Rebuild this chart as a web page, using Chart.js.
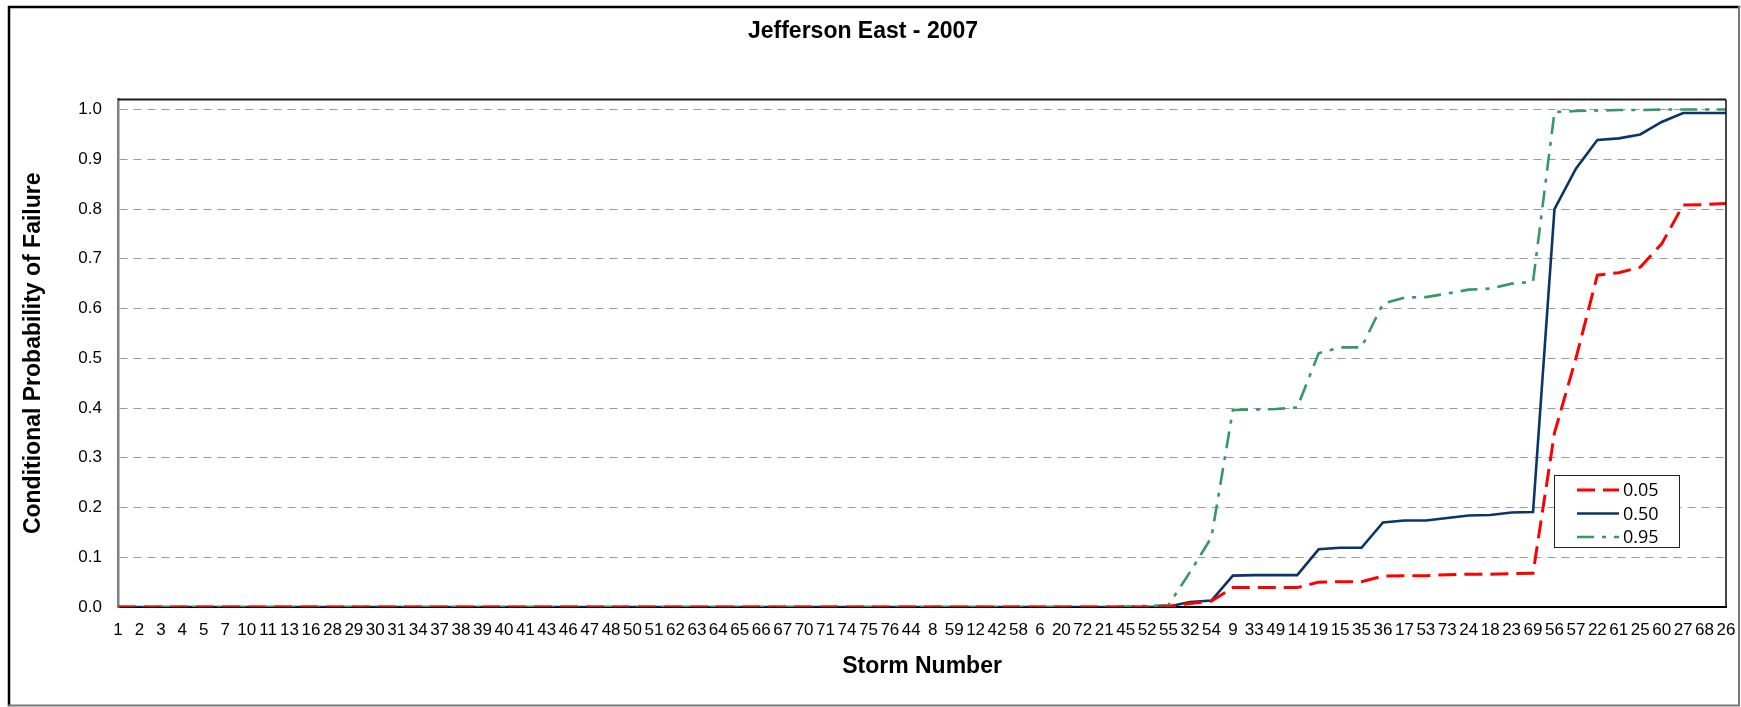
<!DOCTYPE html>
<html>
<head>
<meta charset="utf-8">
<title>Jefferson East - 2007</title>
<script src="https://cdn.jsdelivr.net/npm/chart.js@4.4.1/dist/chart.umd.min.js"></script>
<style>
  html, body { margin: 0; padding: 0; background: #fff; }
  #wrap { width: 1741px; height: 707px; }
</style>
</head>
<body>
<div id="wrap"><canvas id="chart" width="1741" height="707"></canvas></div>
<script>
// Storms in order of increasing conditional probability of failure
const storms = ['1','2','3','4','5','7','10','11','13','16','28','29','30','31','34','37','38','39','40','41',
  '43','46','47','48','50','51','62','63','64','65','66','67','70','71','74','75','76','44','8','59',
  '12','42','58','6','20','72','21','45','52','55','32','54','9','33','49','14','19','15','35','36',
  '17','53','73','24','18','23','69','56','57','22','61','25','60','27','68','26'];

// 5%, 50% and 95% confidence curves
const p05 = [0,0,0,0,0,0,0,0,0,0, 0,0,0,0,0,0,0,0,0,0, 0,0,0,0,0,0,0,0,0,0,
  0,0,0,0,0,0,0,0,0,0, 0,0,0,0,0,0,0,0,0,0.001,
  0.007,0.012,0.039,0.039,0.039,0.039,0.050,0.051,0.051,0.062,
  0.063,0.063,0.065,0.066,0.066,0.067,0.068,0.350,0.500,0.667,
  0.672,0.683,0.730,0.808,0.809,0.811];

const p50 = [0,0,0,0,0,0,0,0,0,0, 0,0,0,0,0,0,0,0,0,0, 0,0,0,0,0,0,0,0,0,0,
  0,0,0,0,0,0,0,0,0,0, 0,0,0,0,0,0,0,0,0,0.001,
  0.010,0.013,0.063,0.064,0.064,0.064,0.116,0.119,0.119,0.170,
  0.174,0.174,0.179,0.184,0.185,0.190,0.191,0.800,0.881,0.939,
  0.942,0.950,0.975,0.993,0.993,0.993];

const p95 = [0,0,0,0,0,0,0,0,0,0, 0,0,0,0,0,0,0,0,0,0, 0,0,0,0,0,0,0,0,0,0,
  0,0,0,0,0,0,0,0,0,0, 0,0,0,0,0,0,0,0.001,0.002,0.004,
  0.070,0.140,0.396,0.397,0.398,0.401,0.510,0.522,0.522,0.610,
  0.622,0.623,0.630,0.638,0.640,0.650,0.654,0.995,0.997,0.998,
  0.999,0.999,1.000,1.000,1.000,1.000];

const yTicks = [0,0.1,0.2,0.3,0.4,0.5,0.6,0.7,0.8,0.9,1.0];

const SANS = "'Liberation Sans', Arial, sans-serif";

const series = [
  { label: '0.05', data: p05, color: '#ff0000', width: 3,   dash: [18, 8] },
  { label: '0.95', data: p95, color: '#339966', width: 2.6, dash: [17, 8, 4, 8] },
  { label: '0.50', data: p50, color: '#0b3468', width: 2.6, dash: [] }
];
const legendOrder = ['0.05', '0.50', '0.95'];

// Outer frame of the whole chart and box around the plot area
const framePlugin = {
  id: 'frame',
  beforeDraw(chart) {
    const ctx = chart.ctx;
    ctx.save();
    ctx.fillStyle = '#fff';
    ctx.fillRect(0, 0, chart.width, chart.height);
    ctx.lineCap = 'square';
    ctx.strokeStyle = '#000';
    ctx.lineWidth = 2.5;
    ctx.beginPath();
    ctx.moveTo(9, 705); ctx.lineTo(9, 7); ctx.lineTo(1739, 7);
    ctx.stroke();
    ctx.strokeStyle = '#777';
    ctx.lineWidth = 2;
    ctx.beginPath();
    ctx.moveTo(1739, 7); ctx.lineTo(1739, 705.5); ctx.lineTo(9, 705.5);
    ctx.stroke();
    ctx.restore();
  },
  afterDatasetsDraw(chart) {
    const { ctx, chartArea: a } = chart;
    ctx.save();
    ctx.strokeStyle = '#1a1a1a';
    ctx.lineWidth = 2;
    ctx.beginPath();
    ctx.moveTo(a.left, a.top); ctx.lineTo(a.right, a.top);
    ctx.stroke();
    ctx.lineWidth = 1.6;
    ctx.beginPath();
    ctx.moveTo(a.right, a.top); ctx.lineTo(a.right, a.bottom);
    ctx.stroke();
    ctx.restore();
  }
};

// Boxed legend with line samples, placed inside the plot area
const boxLegendPlugin = {
  id: 'boxLegend',
  afterDraw(chart) {
    const ctx = chart.ctx;
    const bx = 1554.5, by = 475.5, bw = 125, bh = 72;
    ctx.save();
    ctx.fillStyle = '#fff';
    ctx.fillRect(bx, by, bw, bh);
    ctx.strokeStyle = '#222';
    ctx.lineWidth = 1;
    ctx.strokeRect(bx, by, bw, bh);
    const rows = [490, 513.5, 537];
    legendOrder.forEach((lab, i) => {
      const s = series.find(d => d.label === lab);
      const y = rows[i];
      ctx.strokeStyle = s.color;
      ctx.lineWidth = s.width;
      ctx.setLineDash(s.dash);
      ctx.beginPath();
      ctx.moveTo(1577, y); ctx.lineTo(1619, y);
      ctx.stroke();
      ctx.setLineDash([]);
      ctx.fillStyle = '#000';
      ctx.font = "18px 'Open Sans', 'Liberation Sans', sans-serif";
      ctx.textBaseline = 'middle';
      ctx.textAlign = 'left';
      ctx.fillText(lab, 1623, y + 1);
    });
    ctx.restore();
  }
};

new Chart(document.getElementById('chart'), {
  type: 'line',
  data: {
    labels: storms,
    datasets: series.map(s => ({
      label: s.label,
      data: s.data,
      borderColor: s.color,
      backgroundColor: s.color,
      borderWidth: s.width,
      borderDash: s.dash,
      pointRadius: 0,
      tension: 0,
      fill: false
    }))
  },
  options: {
    responsive: false,
    animation: false,
    layout: { padding: { left: 0, right: 15, top: 0, bottom: 0 } },
    font: { family: SANS },
    plugins: {
      legend: { display: false },
      tooltip: { enabled: false },
      title: {
        display: true,
        text: 'Jefferson East - 2007',
        color: '#000',
        font: { family: SANS, size: 23, weight: 'bold' },
        padding: { top: 18, bottom: 54 }
      }
    },
    scales: {
      x: {
        type: 'category',
        offset: false,
        afterFit(scale) {
          scale.height = 100;
          scale.paddingRight = 0;
          scale.paddingLeft = 0;
        },
        ticks: {
          autoSkip: false, maxRotation: 0, minRotation: 0,
          color: '#000', padding: 13,
          font: { family: SANS, size: 17 }
        },
        grid: { display: false, drawTicks: false },
        border: { display: true, color: '#000', width: 2 },
        title: {
          display: true, text: 'Storm Number', color: '#000',
          font: { family: SANS, size: 23, weight: 'bold' },
          padding: { top: 0, bottom: 27 }
        }
      },
      y: {
        min: 0, max: 1.02,
        afterFit(scale) { scale.width = 118; },
        afterBuildTicks(scale) {
          scale.ticks = yTicks.map(v => ({ value: v }));
        },
        ticks: {
          color: '#000', padding: 16,
          font: { family: SANS, size: 17 },
          callback: v => Number(v).toFixed(1)
        },
        grid: { color: '#9a9a9a', lineWidth: 1, drawTicks: false },
        border: { display: true, color: '#808080', width: 2.5, dash: [8, 6] },
        title: {
          display: true, text: 'Conditional Probability of Failure', color: '#000',
          font: { family: SANS, size: 23, weight: 'bold' },
          padding: { top: 20, bottom: 0 }
        }
      }
    }
  },
  plugins: [framePlugin, boxLegendPlugin]
});
</script>
</body>
</html>
